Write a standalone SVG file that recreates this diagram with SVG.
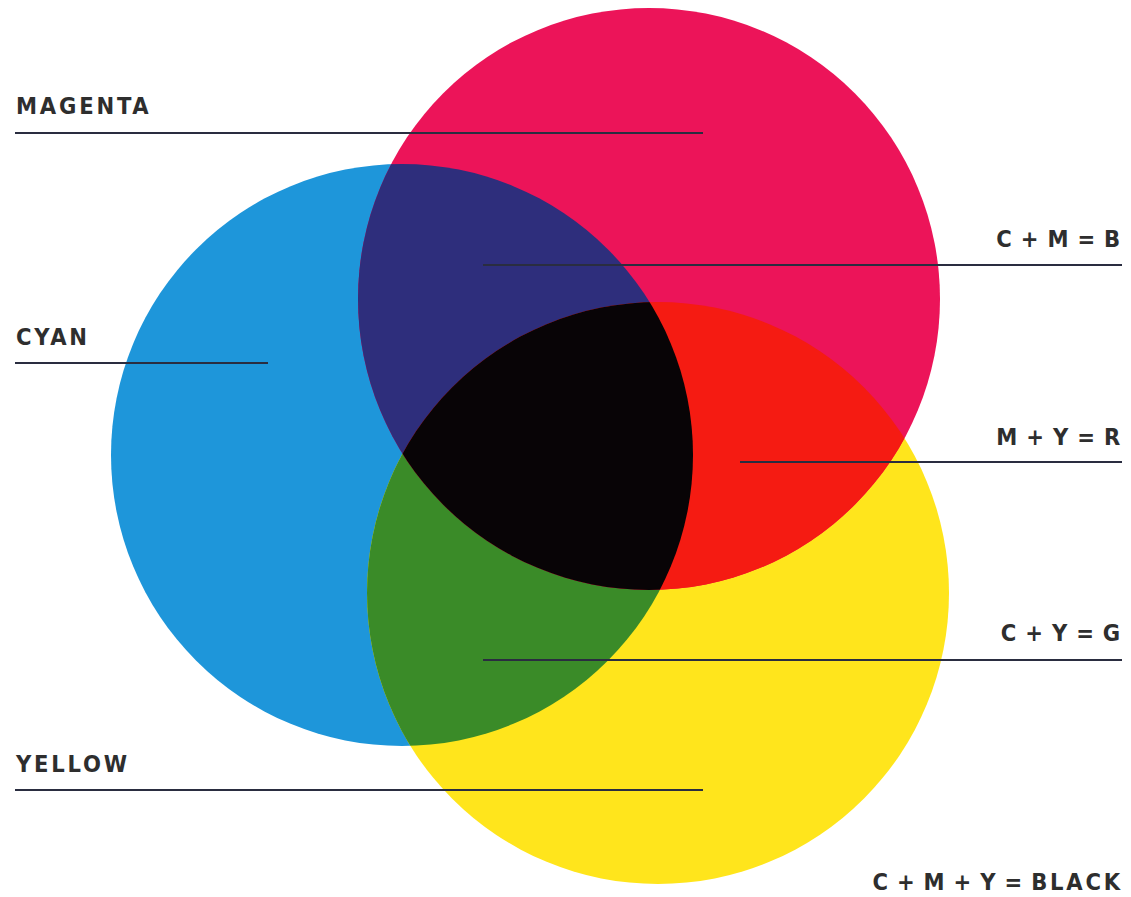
<svg xmlns="http://www.w3.org/2000/svg" width="1131" height="897" viewBox="0 0 1131 897">
<style>
.lbl{font-family:"DejaVu Sans Condensed","Liberation Sans",sans-serif;font-size:23.5px;font-weight:bold;fill:#2e2e2e;letter-spacing:2.8px}
.r{text-anchor:end;word-spacing:-4px}
.ln{stroke:#2a2d40;stroke-width:2;fill:none}
</style>
<defs>
<clipPath id="cM"><circle cx="649" cy="299" r="291"/></clipPath>
<clipPath id="cC"><circle cx="402" cy="455" r="291"/></clipPath>
<clipPath id="cY"><circle cx="658" cy="593" r="291"/></clipPath>
</defs>
<rect width="1131" height="897" fill="#ffffff"/>
<g id="circles">
<circle id="cyan" cx="402" cy="455" r="291" fill="#1e96da"/>
<circle id="yellow" cx="658" cy="593" r="291" fill="#ffe51c"/>
<circle id="magenta" cx="649" cy="299" r="291" fill="#ec1459"/>
<g id="cy" clip-path="url(#cC)"><circle cx="658" cy="593" r="291" fill="#3a8b28"/></g>
<g id="cm" clip-path="url(#cC)"><circle cx="649" cy="299" r="291" fill="#2e2e7c"/></g>
<g id="my" clip-path="url(#cY)"><circle cx="649" cy="299" r="291" fill="#f51b12"/></g>
<g id="cmy" clip-path="url(#cC)"><g clip-path="url(#cY)"><circle cx="649" cy="299" r="291" fill="#080406"/></g></g>
</g>
<g id="connectors">
<line class="ln" x1="15" y1="133" x2="703" y2="133"/>
<line class="ln" x1="15" y1="363" x2="268" y2="363"/>
<line class="ln" x1="15" y1="790" x2="703" y2="790"/>
<line class="ln" x1="483" y1="265" x2="1122" y2="265"/>
<line class="ln" x1="740" y1="462" x2="1122" y2="462"/>
<line class="ln" x1="483" y1="660" x2="1122" y2="660"/>
</g>
<g id="labels">
<text class="lbl" x="16" y="114">MAGENTA</text>
<text class="lbl" x="16" y="345">CYAN</text>
<text class="lbl" x="16" y="772">YELLOW</text>
<text class="lbl r" x="1123" y="247">C + M = B</text>
<text class="lbl r" x="1123" y="445">M + Y = R</text>
<text class="lbl r" x="1123" y="641">C + Y = G</text>
<text class="lbl r" x="1123" y="890">C + M + Y = BLACK</text>
</g>
</svg>
